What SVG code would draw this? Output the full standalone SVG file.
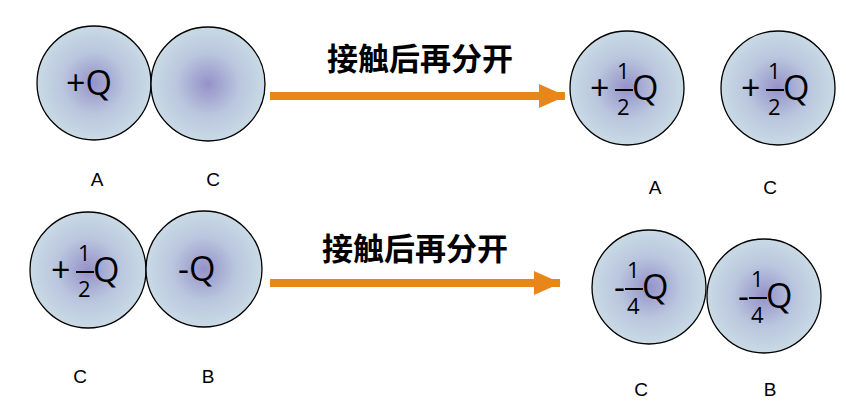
<svg xmlns="http://www.w3.org/2000/svg" width="846" height="404" viewBox="0 0 846 404">
<style>
.b{stroke:#000;stroke-width:1.3;fill:url(#g)}
.q{font-family:"Open Sans","Liberation Sans",sans-serif;font-size:34px;fill:#000}
.f{font-family:"Open Sans","Liberation Sans",sans-serif;font-size:22px;fill:#000}
.l{font-family:"Liberation Sans",sans-serif;font-size:19px;fill:#000;text-anchor:middle}
.t{font-family:"Noto Sans CJK SC",sans-serif;font-size:31px;font-weight:bold;fill:#000;text-anchor:middle}
.a{stroke:#E8861A;stroke-width:8;fill:none}
</style>
<defs>
<radialGradient id="g"><stop offset="0" stop-color="#9492C8"/><stop offset="0.55" stop-color="#BAC6DE"/><stop offset="1" stop-color="#C9DAE5"/></radialGradient>
<marker id="m" markerUnits="userSpaceOnUse" markerWidth="30" markerHeight="30" refX="26" refY="14" orient="auto"><path d="M0,2 L27,14 L0,26 Z" fill="#E8861A"/></marker>
</defs>
<g id="connectors">
<line class="a" x1="270" y1="96" x2="565" y2="96" marker-end="url(#m)"/>
<line class="a" x1="270" y1="283" x2="560" y2="283" marker-end="url(#m)"/>
</g>
<text class="t" x="420" y="70">接触后再分开</text>
<text class="t" x="415" y="260">接触后再分开</text>
<g id="A1"><circle class="b" cx="94" cy="83" r="57"/><text class="q" x="66" y="95">+Q</text></g>
<g id="C1"><circle class="b" cx="208" cy="84" r="57"/></g>
<g id="A2"><circle class="b" cx="627" cy="88" r="57"/><text class="q" x="590" y="100">+</text><text class="f" x="617" y="79">1</text><line x1="615" y1="90" x2="633" y2="90" stroke="#000" stroke-width="2"/><text class="f" x="617" y="115">2</text><text class="q" x="632" y="100">Q</text></g>
<g id="C2"><circle class="b" cx="778" cy="88" r="57"/><text class="q" x="741" y="100">+</text><text class="f" x="768" y="79">1</text><line x1="766" y1="90" x2="784" y2="90" stroke="#000" stroke-width="2"/><text class="f" x="768" y="115">2</text><text class="q" x="783" y="100">Q</text></g>
<g id="C3"><circle class="b" cx="88" cy="270" r="58"/><text class="q" x="51" y="282">+</text><text class="f" x="78" y="261">1</text><line x1="76" y1="272" x2="94" y2="272" stroke="#000" stroke-width="2"/><text class="f" x="78" y="297">2</text><text class="q" x="93" y="282">Q</text></g>
<g id="B3"><circle class="b" cx="204" cy="269" r="58"/><text class="q" x="178" y="281">-Q</text></g>
<g id="C4"><circle class="b" cx="649" cy="287" r="57"/><text class="q" x="614" y="299">-</text><text class="f" x="627" y="278">1</text><line x1="625" y1="289" x2="643" y2="289" stroke="#000" stroke-width="2"/><text class="f" x="627" y="314">4</text><text class="q" x="642" y="299">Q</text></g>
<g id="B4"><circle class="b" cx="764" cy="296" r="57"/><text class="q" x="738" y="308">-</text><text class="f" x="751" y="287">1</text><line x1="749" y1="298" x2="767" y2="298" stroke="#000" stroke-width="2"/><text class="f" x="751" y="323">4</text><text class="q" x="766" y="308">Q</text></g>
<text class="l" x="97" y="186">A</text><text class="l" x="213" y="186">C</text>
<text class="l" x="655" y="194">A</text><text class="l" x="770" y="194">C</text>
<text class="l" x="80" y="383">C</text><text class="l" x="208" y="383">B</text>
<text class="l" x="641" y="396">C</text><text class="l" x="770" y="396">B</text>
</svg>
